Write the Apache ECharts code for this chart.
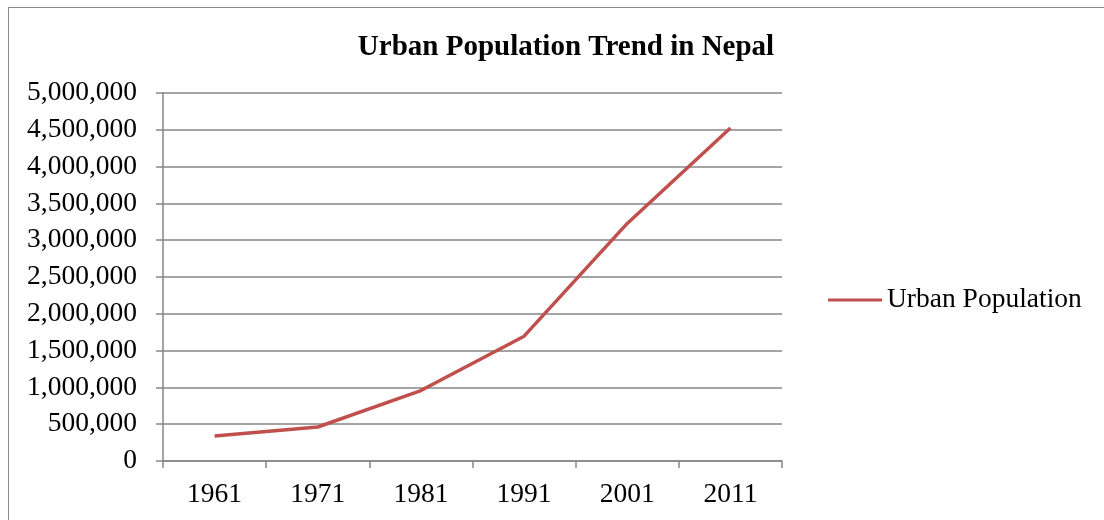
<!DOCTYPE html>
<html><head><meta charset="utf-8">
<script src="https://cdn.jsdelivr.net/npm/echarts@6/dist/echarts.min.js"></script>
<style>
html,body{margin:0;padding:0;background:#fff;}
#wrap{position:absolute;left:0;top:0;width:1104px;height:520px;overflow:hidden;}
#frame{position:absolute;left:8px;top:7px;width:1200px;height:600px;border-left:1.5px solid #888;border-top:1.5px solid #888;}
#chart{position:absolute;left:0;top:0;width:1104px;height:520px;}
</style></head>
<body><div id="wrap"><div id="frame"></div><div id="chart"></div></div>
<script>
const titleText = "Urban Population Trend in Nepal";
const seriesName = "Urban Population";
const years = ["1961","1971","1981","1991","2001","2011"];
const urbanPop = [340000, 462000, 957000, 1696000, 3228000, 4524000];
const yMin = 0, yMax = 5000000, yStep = 500000;

const font = "Liberation Serif";
const chart = echarts.init(document.getElementById('chart'), null, {renderer:'canvas'});
chart.setOption({
  backgroundColor: 'transparent',
  animation: false,
  title: {
    text: titleText, left: 561, top: 28, textAlign: 'center',
    textStyle: {fontFamily: font, fontSize: 29, fontWeight: 'bold', color: '#000'}
  },
  legend: {
    left: 823, top: 281, icon: 'rect', itemWidth: 54, itemHeight: 3,
    textStyle: {fontFamily: font, fontSize: 27.5, color: '#000'},
    data: [seriesName]
  },
  grid: {left: 163, right: 322, top: 93, bottom: 59, containLabel: false},
  xAxis: {
    type: 'category', data: years, boundaryGap: true,
    axisLine: {lineStyle: {color: '#868686', width: 1.5}},
    axisTick: {show: true, length: 7, alignWithLabel: false, lineStyle: {color: '#868686', width: 1.5}},
    axisLabel: {fontFamily: font, fontSize: 27.5, color: '#000', margin: 20},
    splitLine: {show: false}
  },
  yAxis: {
    type: 'value', min: yMin, max: yMax, interval: yStep,
    axisLine: {show: true, lineStyle: {color: '#868686', width: 1.5}},
    axisTick: {show: true, length: 7, lineStyle: {color: '#868686', width: 1.5}},
    axisLabel: {fontFamily: font, fontSize: 27.5, color: '#000', margin: 26,
      formatter: v => v.toLocaleString('en-US')},
    splitLine: {show: true, lineStyle: {color: '#868686', width: 1.5}}
  },
  series: [{
    name: seriesName, type: 'line', data: urbanPop,
    showSymbol: false, symbol: 'none',
    lineStyle: {color: '#C0504D', width: 3.5},
    itemStyle: {color: '#C0504D'}
  }]
});
</script></body></html>
